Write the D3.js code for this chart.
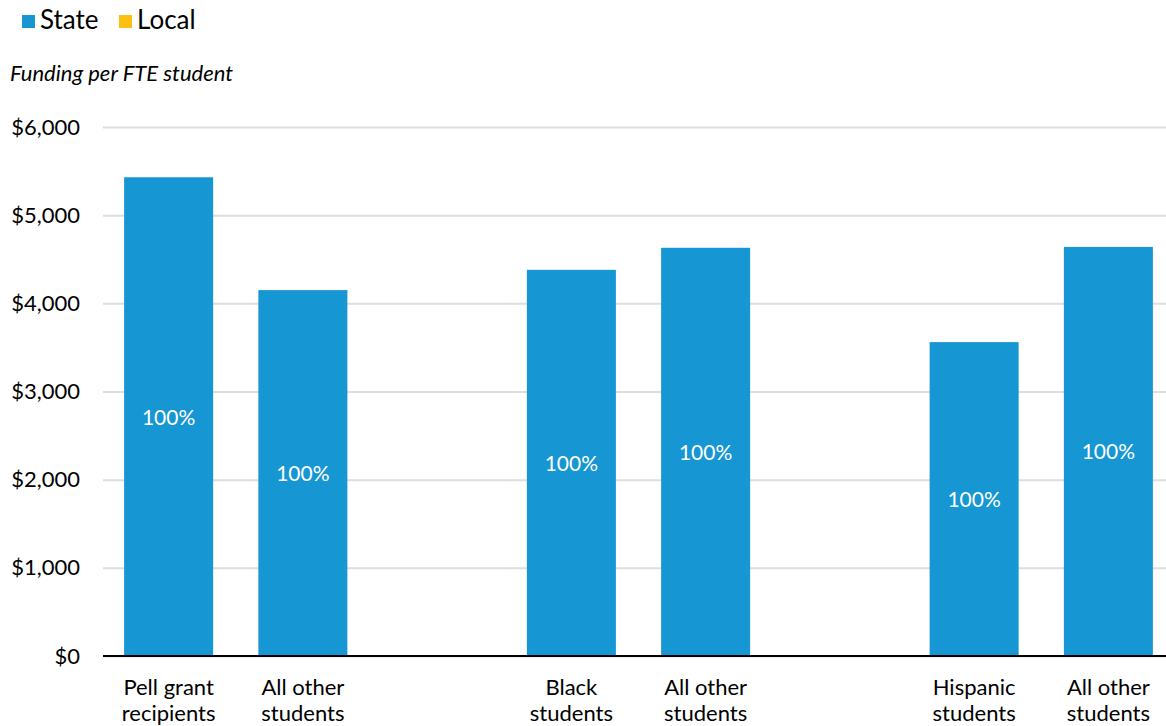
<!DOCTYPE html>
<html><head><meta charset="utf-8">
<script src="https://cdn.jsdelivr.net/npm/d3@7"></script>
<style>
body{margin:0;background:#fff;font-family:Lato,"Noto Sans",sans-serif;}
</style></head>
<body><svg id="c" width="1166" height="726"></svg>
<script>
const categories = [
  ["Pell grant","recipients"],
  ["All other","students"],
  null,
  ["Black","students"],
  ["All other","students"],
  null,
  ["Hispanic","students"],
  ["All other","students"]
];
const stateValues = [5430, 4150, null, 4380, 4630, null, 3560, 4640];
const localValues = [0, 0, null, 0, 0, null, 0, 0];
const shareLabels = ["100%","100%",null,"100%","100%",null,"100%","100%"];
const yTicks = [0,1000,2000,3000,4000,5000,6000];
const seriesNames = ["State","Local"];
const colors = ["#1696d2","#fdbf11"];

const svg = d3.select("#c");
const x = d3.scaleBand().domain(d3.range(categories.length)).range([101.5,1175.5]).paddingInner(0.337).paddingOuter(0.1685);
const y = d3.scaleLinear().domain([0,6000]).range([656,127]);

// legend
const lg = svg.append("g");
const lx = [22,119];
seriesNames.forEach((n,i)=>{
  lg.append("rect").attr("x",lx[i]).attr("y",15).attr("width",13).attr("height",13).attr("fill",colors[i]);
  lg.append("text").attr("x",lx[i]+18).attr("y",29).attr("font-size",26).attr("fill","#000").text(n);
});
svg.append("text").attr("x",10).attr("y",81).attr("font-size",22).attr("font-style","italic").attr("fill","#000").text("Funding per FTE student");

// grid
const ya = svg.append("g").attr("transform","translate(103,0)")
  .call(d3.axisLeft(y).tickValues(yTicks).tickSize(-1063).tickFormat(d=>"$"+d3.format(",")(d)).tickPadding(23));
ya.select(".domain").remove();
ya.selectAll(".tick line").attr("stroke","#dedede").attr("stroke-width",2);
ya.selectAll(".tick text").attr("font-size",22).attr("font-family","Lato").attr("fill","#000");

// bars
const idx = d3.range(categories.length).filter(i=>categories[i]);
svg.append("g").selectAll("rect").data(idx).join("rect")
  .attr("x",i=>x(i)).attr("width",x.bandwidth())
  .attr("y",i=>y(stateValues[i])).attr("height",i=>y(0)-y(stateValues[i]))
  .attr("fill",colors[0]);
svg.append("g").selectAll("rect").data(idx).join("rect")
  .attr("x",i=>x(i)).attr("width",x.bandwidth())
  .attr("y",i=>y(stateValues[i]+localValues[i])).attr("height",i=>y(stateValues[i])-y(stateValues[i]+localValues[i]))
  .attr("fill",colors[1]);
svg.append("g").selectAll("text").data(idx).join("text")
  .attr("x",i=>x(i)+x.bandwidth()/2).attr("y",i=>(y(stateValues[i])+y(0))/2+8)
  .attr("text-anchor","middle").attr("font-size",21).attr("font-weight",400).attr("fill","#fff")
  .text(i=>shareLabels[i]);

// baseline
svg.append("line").attr("x1",103).attr("x2",1166).attr("y1",y(0)).attr("y2",y(0)).attr("stroke","#000").attr("stroke-width",2);

// category labels
const cl = svg.append("g").selectAll("text").data(idx).join("text")
  .attr("text-anchor","middle").attr("font-size",22).attr("fill","#000");
cl.each(function(i){
  const t = d3.select(this);
  categories[i].forEach((line,k)=>{
    t.append("tspan").attr("x",x(i)+x.bandwidth()/2).attr("y",695+k*26).text(line);
  });
});
</script></body></html>
